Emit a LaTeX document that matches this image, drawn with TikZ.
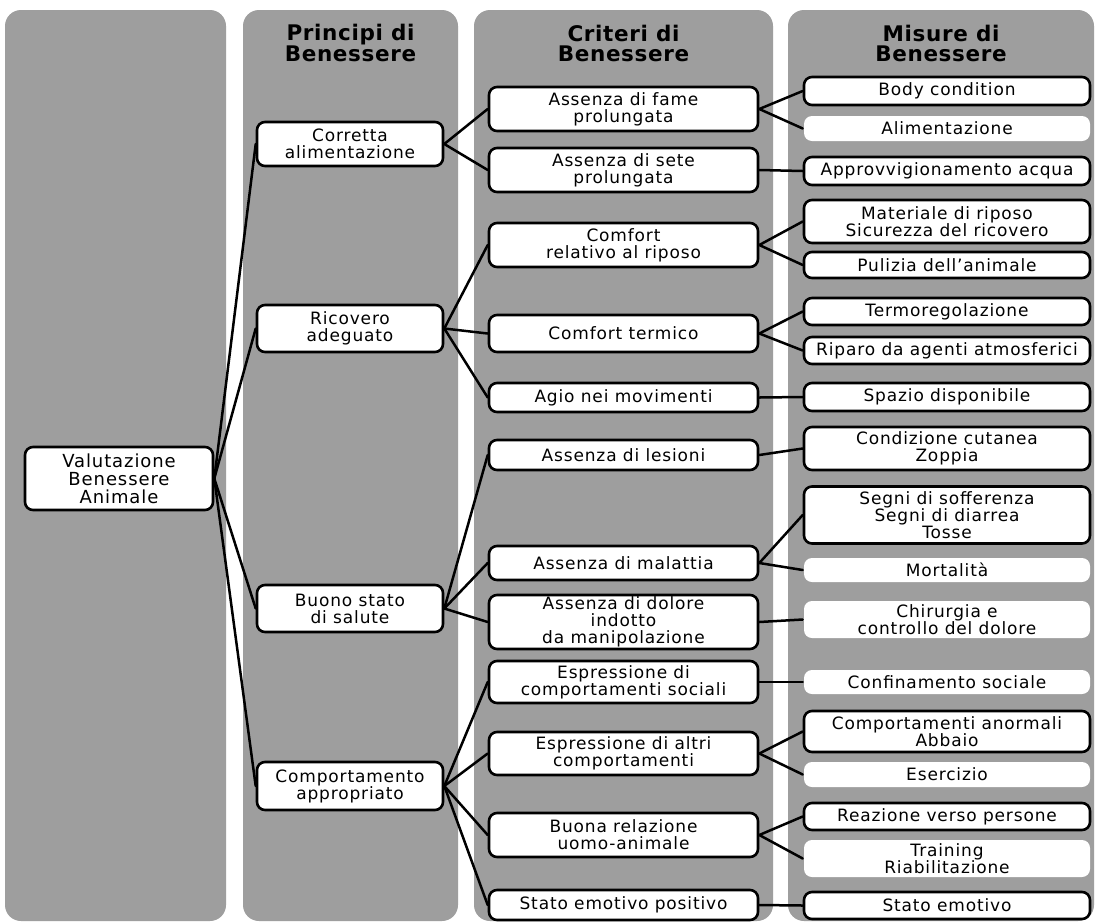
\documentclass[tikz,border=0pt]{standalone}
\usepackage{fontspec}
\setmainfont{DejaVu Sans}[LetterSpace=5]
\newfontfamily\hdfont{DejaVu Sans}[LetterSpace=3]
\begin{document}
\begin{tikzpicture}[x=1pt,y=-1pt,
  colbg/.style={fill=black!38, rounded corners=16pt},
  box/.style={draw=black, line width=2.6pt, fill=white, rounded corners=8pt, align=center, inner sep=0pt, font=\fontsize{17}{17}\selectfont},
  nobox/.style={box, draw=none},
  hdr/.style={align=center, inner sep=0pt, font=\hdfont\bfseries\fontsize{21.5}{20}\selectfont},
  link/.style={line width=2.5pt, line cap=round}
]
\useasboundingbox (0,0) rectangle (1097,922);
\fill[white] (0,0) rectangle (1097,922);
\begin{scope}
\clip (0,0) rectangle (1097,922);
\fill[colbg] (5,10) rectangle (226,921);
\fill[colbg] (243,10) rectangle (458,921);
\fill[colbg] (474,10) rectangle (773,921);
\fill[colbg] (788,10) rectangle (1094,921);
\end{scope}

% headers
\node[hdr] (h2) at (350.5,43) {Principi di\\Benessere};
\node[hdr] (h3) at (623.5,43) {Criteri di\\Benessere};
\node[hdr] (h4) at (941,43) {Misure di\\Benessere};

% column 1
\node[box, minimum width=188pt, minimum height=63pt, font=\fontsize{18}{18}\selectfont] (val) at (119,478.5) {Valutazione\\Benessere\\Animale};

% column 2
\node[box, minimum width=186pt, minimum height=44pt] (corr) at (350,144) {Corretta\\alimentazione};
\node[box, minimum width=186pt, minimum height=47pt] (ric) at (350,328.5) {Ricovero\\adeguato};
\node[box, minimum width=186pt, minimum height=47pt] (buono) at (350,608.5) {Buono stato\\di salute};
\node[box, minimum width=186pt, minimum height=48pt] (comp) at (350,786) {Comportamento\\appropriato};

% column 3
\node[box, minimum width=269pt, minimum height=44pt] (fame) at (623.5,109) {Assenza di fame\\prolungata};
\node[box, minimum width=269pt, minimum height=44pt] (sete) at (623.5,170) {Assenza di sete\\prolungata};
\node[box, minimum width=269pt, minimum height=44pt] (riposo) at (623.5,245) {Comfort\\relativo al riposo};
\node[box, minimum width=269pt, minimum height=37pt] (termico) at (623.5,333.5) {Comfort termico};
\node[box, minimum width=269pt, minimum height=29pt] (agio) at (623.5,397.5) {Agio nei movimenti};
\node[box, minimum width=269pt, minimum height=30pt] (lesioni) at (623.5,455) {Assenza di lesioni};
\node[box, minimum width=269pt, minimum height=34pt] (malattia) at (623.5,563) {Assenza di malattia};
\node[box, minimum width=269pt, minimum height=54pt] (dolore) at (623.5,622) {Assenza di dolore\\indotto\\da manipolazione};
\node[box, minimum width=269pt, minimum height=42pt] (sociali) at (623.5,682) {Espressione di\\comportamenti sociali};
\node[box, minimum width=269pt, minimum height=43pt] (altri) at (623.5,753.5) {Espressione di altri\\comportamenti};
\node[box, minimum width=269pt, minimum height=44pt] (relazione) at (623.5,835) {Buona relazione\\uomo-animale};
\node[box, minimum width=269pt, minimum height=30pt] (emopos) at (623.5,905) {Stato emotivo positivo};

% column 4
\node[box, minimum width=286pt, minimum height=28pt] (body) at (947,91) {Body condition};
\node[nobox, minimum width=286pt, minimum height=25pt] (alim) at (947,128.5) {Alimentazione};
\node[box, minimum width=286pt, minimum height=28pt] (acqua) at (947,171) {Approvvigionamento acqua};
\node[box, minimum width=286pt, minimum height=43pt] (materiale) at (947,221.5) {Materiale di riposo\\Sicurezza del ricovero};
\node[box, minimum width=286pt, minimum height=26pt] (pulizia) at (947,265) {Pulizia dell'animale};
\node[box, minimum width=286pt, minimum height=27pt] (termo) at (947,311.5) {Termoregolazione};
\node[box, minimum width=286pt, minimum height=27pt] (riparo) at (947,350.5) {Riparo da agenti atmosferici};
\node[box, minimum width=286pt, minimum height=28pt] (spazio) at (947,397) {Spazio disponibile};
\node[box, minimum width=286pt, minimum height=43pt] (cutanea) at (947,448.5) {Condizione cutanea\\Zoppia};
\node[box, minimum width=286pt, minimum height=57pt] (segni) at (947,515) {Segni di sofferenza\\Segni di diarrea\\Tosse};
\node[nobox, minimum width=286pt, minimum height=24pt] (mortalita) at (947,570) {Mortalità};
\node[nobox, minimum width=286pt, minimum height=37pt] (chirurgia) at (947,619.5) {Chirurgia e\\controllo del dolore};
\node[nobox, minimum width=286pt, minimum height=24pt] (confinamento) at (947,682) {Confinamento sociale};
\node[box, minimum width=286pt, minimum height=41pt] (anormali) at (947,731.5) {Comportamenti anormali\\Abbaio};
\node[nobox, minimum width=286pt, minimum height=25pt] (esercizio) at (947,774.5) {Esercizio};
\node[box, minimum width=286pt, minimum height=27pt] (reazione) at (947,816.5) {Reazione verso persone};
\node[nobox, minimum width=286pt, minimum height=37pt] (training) at (947,858.5) {Training\\Riabilitazione};
\node[box, minimum width=286pt, minimum height=27pt] (emotivo) at (947,905.5) {Stato emotivo};

% connectors
\foreach \t in {corr,ric,buono,comp} \draw[link] (val.east) -- (\t.west);
\foreach \t in {fame,sete} \draw[link] (corr.east) -- (\t.west);
\foreach \t in {riposo,termico,agio} \draw[link] (ric.east) -- (\t.west);
\foreach \t in {lesioni,malattia,dolore} \draw[link] (buono.east) -- (\t.west);
\foreach \t in {sociali,altri,relazione,emopos} \draw[link] (comp.east) -- (\t.west);
\foreach \t in {body,alim} \draw[link] (fame.east) -- (\t.west);
\draw[link] (sete.east) -- (acqua.west);
\foreach \t in {materiale,pulizia} \draw[link] (riposo.east) -- (\t.west);
\foreach \t in {termo,riparo} \draw[link] (termico.east) -- (\t.west);
\draw[link] (agio.east) -- (spazio.west);
\draw[link] (lesioni.east) -- (cutanea.west);
\foreach \t in {segni,mortalita} \draw[link] (malattia.east) -- (\t.west);
\draw[link] (dolore.east) -- (chirurgia.west);
\draw[link] (sociali.east) -- (confinamento.west);
\foreach \t in {anormali,esercizio} \draw[link] (altri.east) -- (\t.west);
\foreach \t in {reazione,training} \draw[link] (relazione.east) -- (\t.west);
\draw[link] (emopos.east) -- (emotivo.west);
\end{tikzpicture}
\end{document}
